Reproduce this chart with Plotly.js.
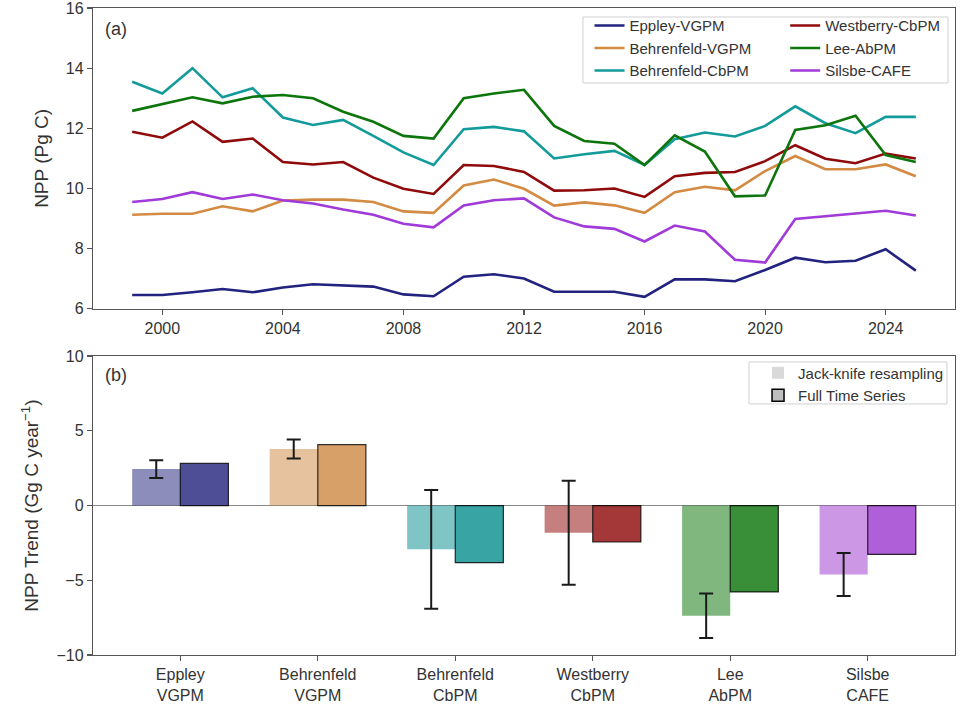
<!DOCTYPE html>
<html>
<head>
<meta charset="utf-8">
<script src="https://cdn.plot.ly/plotly-3.0.1.min.js"></script>
<style>html,body{margin:0;padding:0;background:#fff;}#chart{width:965px;height:724px;}</style>
</head>
<body>
<div id="chart"></div>
<script>
// ---- Panel (a): annual NPP (Pg C) ----
const years = [1999,2000,2001,2002,2003,2004,2005,2006,2007,2008,2009,2010,2011,2012,2013,2014,2015,2016,2017,2018,2019,2020,2021,2022,2023,2024,2025];
const eppleyVGPM = [6.46,6.46,6.55,6.66,6.55,6.71,6.82,6.79,6.74,6.48,6.42,7.07,7.15,7.01,6.57,6.57,6.57,6.40,6.98,6.98,6.92,7.29,7.70,7.55,7.60,7.98,7.27];
const behrenfeldVGPM = [9.13,9.16,9.16,9.41,9.24,9.60,9.63,9.63,9.55,9.24,9.19,10.10,10.30,9.99,9.43,9.54,9.44,9.19,9.88,10.06,9.94,10.58,11.08,10.64,10.64,10.80,10.41];
const behrenfeldCbPM = [13.55,13.16,14.00,13.03,13.33,12.36,12.11,12.28,11.75,11.20,10.78,11.97,12.05,11.90,11.00,11.14,11.25,10.78,11.64,11.86,11.73,12.08,12.73,12.17,11.84,12.38,12.38];
const westberryCbPM = [11.89,11.69,12.23,11.55,11.66,10.88,10.80,10.88,10.36,9.99,9.82,10.78,10.75,10.55,9.93,9.94,10.00,9.72,10.41,10.52,10.55,10.91,11.44,10.99,10.84,11.16,11.00];
const leeAbPM = [12.58,12.81,13.03,12.83,13.05,13.11,13.00,12.55,12.22,11.75,11.66,13.00,13.16,13.28,12.08,11.58,11.49,10.78,11.77,11.23,9.74,9.77,11.95,12.10,12.42,11.11,10.88];
const silsbeCAFE = [9.55,9.65,9.88,9.65,9.80,9.61,9.50,9.30,9.13,8.83,8.71,9.44,9.61,9.67,9.04,8.74,8.66,8.24,8.77,8.57,7.63,7.54,8.99,9.08,9.19,9.26,9.10];

const seriesNames = ['Eppley-VGPM','Behrenfeld-VGPM','Behrenfeld-CbPM','Westberry-CbPM','Lee-AbPM','Silsbe-CAFE'];
const seriesColors = ['#1c1c78','#cd853f','#008b8b','#8b0000','#007000','#9932cc'];
const lineColors = ['#22227f','#d38a42','#139a9a','#8f0a0a','#0c760c','#a03ad8'];

// ---- Panel (b): NPP trends (Gg C year^-1) ----
const trendCategories = ['Eppley<br>VGPM','Behrenfeld<br>VGPM','Behrenfeld<br>CbPM','Westberry<br>CbPM','Lee<br>AbPM','Silsbe<br>CAFE'];
const jackknifeTrend = [2.44,3.78,-2.93,-1.82,-7.38,-4.62];
const jackknifeErr = [0.59,0.64,3.97,3.48,1.49,1.44];
const fullSeriesTrend = [2.82,4.07,-3.82,-2.44,-5.78,-3.27];
const yTicksA = [6,8,10,12,14,16];
const xTicksA = [2000,2004,2008,2012,2016,2020,2024];
const yTicksB = [-10,-5,0,5,10];

function rgba(hex, a){
  const r=parseInt(hex.slice(1,3),16), g=parseInt(hex.slice(3,5),16), b=parseInt(hex.slice(5,7),16);
  return 'rgba('+r+','+g+','+b+','+a+')';
}

const lineData = [eppleyVGPM, behrenfeldVGPM, behrenfeldCbPM, westberryCbPM, leeAbPM, silsbeCAFE];
const traces = [];
lineData.forEach((vals,i)=>{
  traces.push({
    type:'scatter', mode:'lines', x:years, y:vals, name:seriesNames[i],
    line:{color:lineColors[i], width:2.6},
    xaxis:'x', yaxis:'y',
    legend: i<3 ? 'legend' : 'legend2'
  });
});

const catIdx = trendCategories.map((_,i)=>i);
traces.push({
  type:'bar', x:catIdx, y:jackknifeTrend, width:0.35, offset:-0.35,
  marker:{color:seriesColors.map(c=>rgba(c,0.5)), line:{width:0}},
  error_y:{type:'data', array:jackknifeErr, visible:true, color:'#1a1a1a', thickness:2, width:7},
  xaxis:'x2', yaxis:'y2', showlegend:false, name:'Jack-knife resampling'
});
traces.push({
  type:'bar', x:catIdx, y:fullSeriesTrend, width:0.35, offset:0,
  marker:{color:seriesColors.map(c=>rgba(c,0.78)), line:{width:1.2, color:'rgba(0,0,0,0.8)'}},
  xaxis:'x2', yaxis:'y2', showlegend:false, name:'Full Time Series'
});
// legend-only entries for panel (b)
traces.push({type:'bar', x:[null], y:[null], name:'Jack-knife resampling', marker:{color:'#d9d9d9', line:{width:0}}, xaxis:'x2', yaxis:'y2', legend:'legend3'});
traces.push({type:'bar', x:[null], y:[null], name:'Full Time Series', marker:{color:'#bfbfbf', line:{width:1.5,color:'#000'}}, xaxis:'x2', yaxis:'y2', legend:'legend3'});

const axisCommon = {
  showline:true, mirror:true, linecolor:'#555', linewidth:1.2,
  ticks:'outside', ticklen:5, tickwidth:1.2, tickcolor:'#555',
  showgrid:false, zeroline:false, ticklabeloverflow:'allow',
  tickfont:{family:'Liberation Sans, Arial, sans-serif', size:16, color:'#333'}
};
const titleFont = {family:'Liberation Sans, Arial, sans-serif', size:19, color:'#333'};
const legFont = {family:'Liberation Sans, Arial, sans-serif', size:15, color:'#333'};

const layout = {
  width:965, height:724,
  margin:{l:93, r:10, t:8, b:69},
  paper_bgcolor:'#fff', plot_bgcolor:'#fff',
  barmode:'overlay',
  font:{family:'Liberation Sans, Arial, sans-serif', color:'#333'},
  xaxis: Object.assign({}, axisCommon, {domain:[0,1], anchor:'y', range:[1997.7,2026.3], tickvals:xTicksA}),
  yaxis: Object.assign({}, axisCommon, {domain:[0.535,1], anchor:'x', range:[6,16], tickvals:yTicksA,
          title:{text:'NPP (Pg C)', font:titleFont, standoff:12}}),
  xaxis2: Object.assign({}, axisCommon, {domain:[0,1], anchor:'y2', range:[-0.635,5.635], tickvals:catIdx, ticktext:trendCategories}),
  yaxis2: Object.assign({}, axisCommon, {domain:[0,0.462], anchor:'x2', range:[-10,10], tickvals:yTicksB,
          zeroline:true, zerolinecolor:'#888', zerolinewidth:1.2,
          title:{text:'NPP Trend (Gg C year<sup>−1</sup>)', font:titleFont, standoff:12}}),
  legend:{x:0.576, y:0.998, xanchor:'left', yanchor:'top', bgcolor:'rgba(0,0,0,0)', borderwidth:0, font:legFont, itemwidth:30, tracegroupgap:0},
  legend2:{x:0.803, y:0.998, xanchor:'left', yanchor:'top', bgcolor:'rgba(0,0,0,0)', borderwidth:0, font:legFont, itemwidth:30, tracegroupgap:0},
  legend3:{x:0.7715, y:0.4615, xanchor:'left', yanchor:'top', bgcolor:'rgba(0,0,0,0)', borderwidth:0, font:legFont, itemwidth:30, tracegroupgap:0},
  shapes:[
    {type:'rect', xref:'paper', yref:'paper', x0:0.5684, x1:0.9919, y0:0.8841, y1:0.9861,
     line:{color:'#d0d0d0', width:1}, fillcolor:'rgba(255,255,255,0.85)', layer:'above'},
    {type:'rect', xref:'paper', yref:'paper', x0:0.761, x1:0.9907, y0:0.388, y1:0.4529,
     line:{color:'#d0d0d0', width:1}, fillcolor:'rgba(255,255,255,0.85)', layer:'above'}
  ],
  annotations:[
    {text:'(a)', xref:'paper', yref:'paper', x:0.0116, y:0.9675, xanchor:'left', yanchor:'middle', showarrow:false, font:{family:'Liberation Sans, Arial, sans-serif', size:18, color:'#333'}},
    {text:'(b)', xref:'paper', yref:'paper', x:0.0116, y:0.4328, xanchor:'left', yanchor:'middle', showarrow:false, font:{family:'Liberation Sans, Arial, sans-serif', size:18, color:'#333'}}
  ]
};

Plotly.newPlot('chart', traces, layout, {displayModeBar:false, staticPlot:true});
</script>
</body>
</html>
